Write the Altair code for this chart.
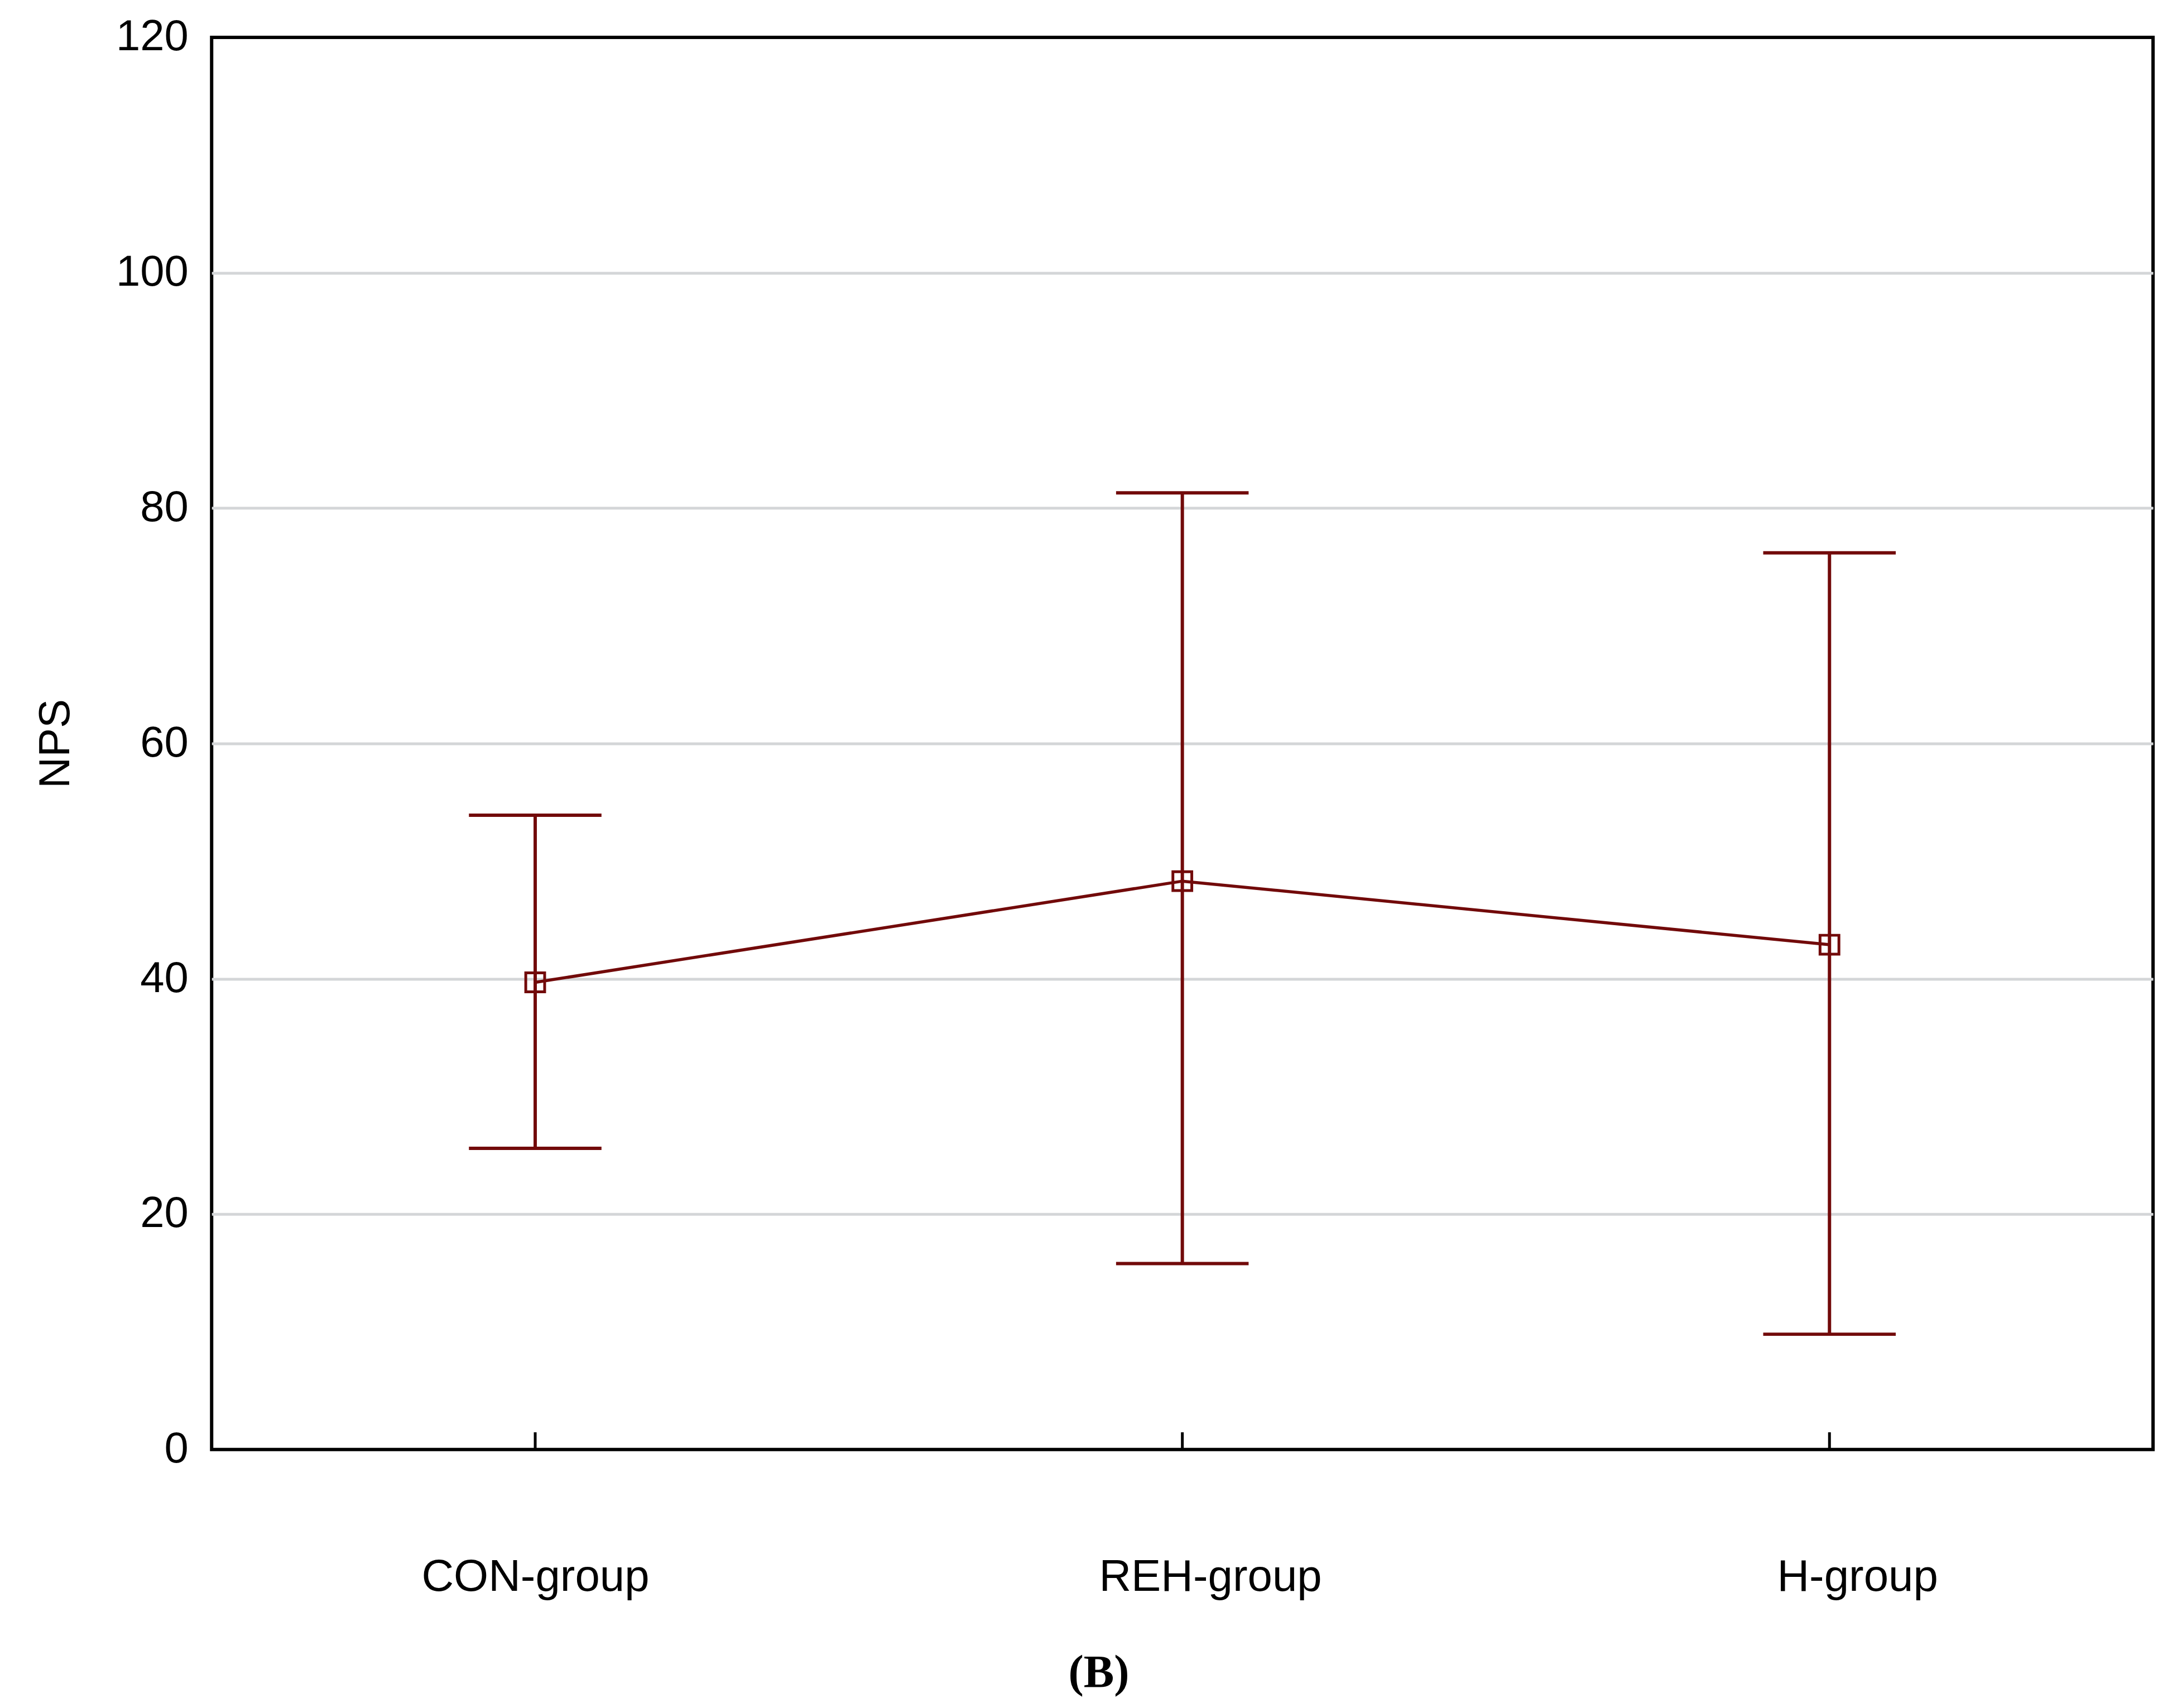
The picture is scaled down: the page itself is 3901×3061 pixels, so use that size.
import altair as alt
import pandas as pd

groups = ["CON-group", "REH-group", "H-group"]
means = [39.7, 48.3, 42.9]
upper = [53.9, 81.3, 76.2]
lower = [25.6, 15.8, 9.8]
y_ticks = [0, 20, 40, 60, 80, 100, 120]

df = pd.DataFrame({"group": groups, "mean": means, "upper": upper, "lower": lower})

W, H = 3486, 2536
RED = "#720a0a"
FONT = "Liberation Sans"

xenc = alt.X(
    "group:N",
    sort=groups,
    scale=alt.Scale(type="point", padding=0.5),
    axis=alt.Axis(
        title=None, labelAngle=0, labelFont=FONT, labelFontSize=80, labelColor="black",
        labelPadding=253, labelBaseline="alphabetic", labelLimit=2000, ticks=False,
        domain=False, grid=False,
        labelOffset=alt.ExprRef("datum.value === 'CON-group' ? 0 : 50"),
    ),
)

yscale = alt.Scale(domain=[0, 120], nice=False, zero=True)
yaxis = alt.Axis(
    title="NPS", values=y_ticks, labelFont=FONT, labelFontSize=78, labelColor="black",
    labelPadding=42, ticks=False, domain=False, grid=True,
    gridColor={"condition": {"test": "datum.value === 0 || datum.value === 120", "value": "transparent"},
               "value": "#d4d6d8"},
    gridWidth=5, titleFont=FONT, titleFontSize=78, titleFontWeight="normal", titleColor="black",
    titlePadding=68,
)

base = alt.Chart(df)

bars = base.mark_rule(color=RED, strokeWidth=6).encode(
    x=xenc, y=alt.Y("lower:Q", scale=yscale, axis=yaxis), y2="upper:Q"
)
cap_hi = base.mark_tick(color=RED, size=238, thickness=6, orient="horizontal", opacity=1).encode(
    x=xenc, y=alt.Y("upper:Q", scale=yscale)
)
cap_lo = base.mark_tick(color=RED, size=238, thickness=6, orient="horizontal", opacity=1).encode(
    x=xenc, y=alt.Y("lower:Q", scale=yscale)
)
line = base.mark_line(color=RED, strokeWidth=5.5).encode(
    x=xenc, y=alt.Y("mean:Q", scale=yscale)
)
pts = base.mark_point(shape="square", filled=False, size=1150, strokeWidth=5, color=RED, opacity=1).encode(
    x=xenc, y=alt.Y("mean:Q", scale=yscale)
)
xticks = base.mark_rule(color="black", strokeWidth=5).encode(
    x=xenc, y=alt.value(H), y2=alt.value(H - 31)
)

chart = alt.layer(bars, cap_hi, cap_lo, line, pts, xticks).properties(
    width=W, height=H,
    autosize=alt.AutoSizeParams(type="none"),
    padding={"left": 372, "top": 56, "right": 35, "bottom": 453},
    background="white",
    title=alt.TitleParams(
        "(B)", orient="bottom", anchor="middle", font="Liberation Serif", fontSize=82,
        fontWeight="bold", color="black", baseline="alphabetic", offset=157, dx=-150,
    ),
).configure_view(stroke="black", strokeWidth=6)

chart.save("out.html", embed_options={"renderer": "svg", "actions": False})
